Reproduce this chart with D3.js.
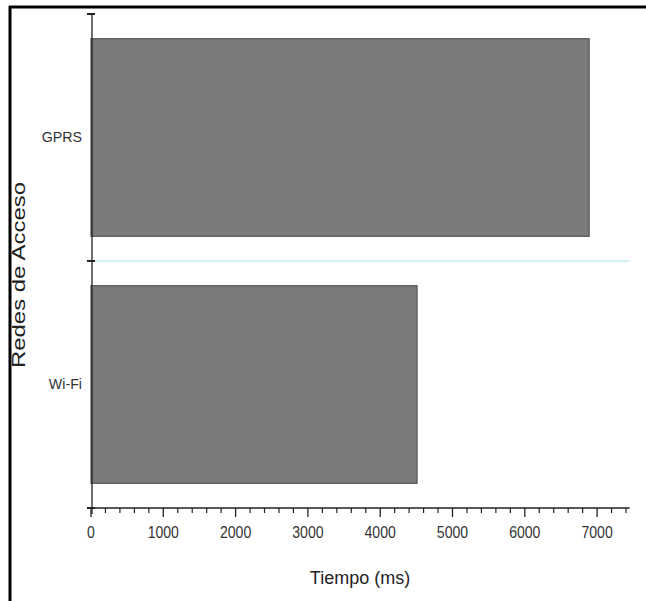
<!DOCTYPE html>
<html><head><meta charset="utf-8">
<script src="https://cdn.jsdelivr.net/npm/d3@7"></script>
<style>body{margin:0;background:#fff}svg{display:block}</style>
</head><body><svg id="c" width="646" height="601"></svg>
<script>
const categories = ["GPRS", "Wi-Fi"];
const values = [6890, 4510];
const xTicks = [0, 1000, 2000, 3000, 4000, 5000, 6000, 7000];
const xMax = 7450;
const xTitle = "Tiempo (ms)";
const yTitle = "Redes de Acceso";

const svg = d3.select("#c");
const font = "'Liberation Sans', Arial, sans-serif";
// frame lines
svg.append("line").attr("x1",9).attr("x2",646).attr("y1",7).attr("y2",7).attr("stroke","#000").attr("stroke-width",3);
svg.append("line").attr("x1",10).attr("x2",10).attr("y1",6).attr("y2",601).attr("stroke","#000").attr("stroke-width",3);

const x0 = 91, x1 = 91 + (xMax/1000)*72.3;
const yTop = 14, yBot = 508;
const x = d3.scaleLinear().domain([0, xMax]).range([x0, x1]);
const y = d3.scaleBand().domain(categories).range([yTop, yBot]).paddingInner(0.2).paddingOuter(0.1);

// separator line between bands
const bounds = d3.range(categories.length + 1).map(i => yTop + i * (yBot - yTop) / categories.length);
svg.append("line").attr("x1",x0).attr("x2",x1).attr("y1",bounds[1]).attr("y2",bounds[1])
  .attr("stroke","#a8e4ea").attr("stroke-width",1.2);

// bars
svg.selectAll("rect.bar").data(categories).join("rect").attr("class","bar")
  .attr("x", x(0)).attr("y", d => y(d))
  .attr("width", (d,i) => x(values[i]) - x(0)).attr("height", y.bandwidth())
  .attr("fill","#7b7b7b").attr("stroke","#555").attr("stroke-width",1.2);

// x axis
const minorTicks = d3.range(0, xMax, 200);
const gx = svg.append("g").attr("transform", `translate(0,${yBot})`);
gx.append("line").attr("x1", x0-4).attr("x2", x1).attr("stroke","#222").attr("stroke-width",1.3);
gx.selectAll("line.minor").data(minorTicks.filter(v => v % 1000 !== 0)).join("line").attr("class","minor")
  .attr("x1", d => x(d)).attr("x2", d => x(d)).attr("y1",0).attr("y2",5).attr("stroke","#222").attr("stroke-width",1.2);
gx.selectAll("line.major").data(xTicks).join("line").attr("class","major")
  .attr("x1", d => x(d)).attr("x2", d => x(d)).attr("y1",0).attr("y2",9).attr("stroke","#222").attr("stroke-width",1.3);
gx.selectAll("text").data(xTicks).join("text")
  .attr("x", d => x(d)).attr("y", 30).attr("text-anchor","middle")
  .attr("font-family", font).attr("font-size", 16).attr("fill","#333")
  .attr("transform", d => `translate(${x(d)},0) scale(0.88,1) translate(${-x(d)},0)`)
  .text(d => d);

// y axis
svg.append("line").attr("x1",x0+1).attr("x2",x0+1).attr("y1",yTop).attr("y2",yBot+6).attr("stroke","#222").attr("stroke-width",1.3);
svg.selectAll("line.yt").data(bounds).join("line").attr("class","yt")
  .attr("x1", x0-4).attr("x2", x0+4).attr("y1", d => d).attr("y2", d => d).attr("stroke","#222").attr("stroke-width",2);
svg.selectAll("text.yl").data(categories).join("text").attr("class","yl")
  .attr("x", 82).attr("y", d => y(d) + y.bandwidth()/2 + 5).attr("text-anchor","end")
  .attr("font-family", font).attr("font-size", 15).attr("fill","#333")
  .attr("transform", d => `translate(82,0) scale(0.95,1) translate(-82,0)`)
  .text(d => d);

// titles
svg.append("text").attr("x", 360).attr("y", 584).attr("text-anchor","middle")
  .attr("font-family", font).attr("font-size", 18).attr("fill","#222").text(xTitle);
svg.append("text").attr("transform", "translate(25,275) rotate(-90)").attr("text-anchor","middle")
  .attr("font-family", font).attr("font-size", 18).attr("fill","#222")
  .attr("textLength", 186).attr("lengthAdjust","spacingAndGlyphs").text(yTitle);
</script></body></html>
